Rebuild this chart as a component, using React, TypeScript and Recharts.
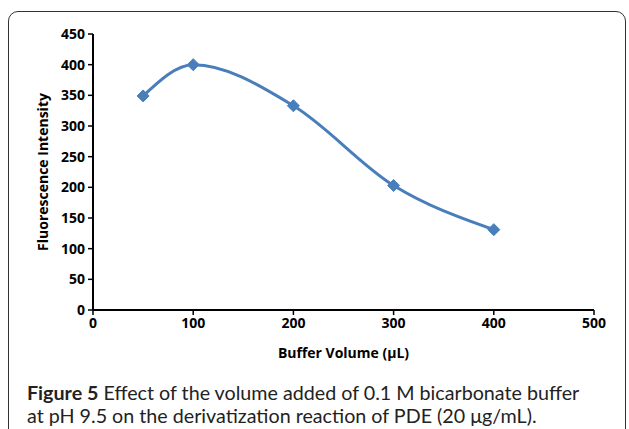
import React from "react";
import { LineChart, Line, XAxis, YAxis, Label } from "recharts";

const volumes = [50, 100, 200, 300, 400];
const intensity = [349, 400, 333, 203, 131];
const xTicks = [0, 100, 200, 300, 400, 500];
const yTicks = [0, 50, 100, 150, 200, 250, 300, 350, 400, 450];

const data = volumes.map((v, i) => ({ volume: v, intensity: intensity[i] }));

const BLUE = "#4a7ebb";
const tickFont = { fontFamily: "'Open Sans', sans-serif", fontSize: 14, fontWeight: 700, fill: "#000" };

const Diamond = (props: any) => {
  const { cx, cy } = props;
  if (cx == null || cy == null) return null;
  const r = 6;
  return (
    <path
      d={`M${cx},${cy - r}L${cx + r},${cy}L${cx},${cy + r}L${cx - r},${cy}Z`}
      fill={BLUE}
      stroke={BLUE}
    />
  );
};

const YTitle = (props: any) => {
  const vb = props.viewBox || {};
  const x = 42;
  const y = vb.y + vb.height / 2;
  return (
    <text
      x={x}
      y={y}
      transform={`rotate(-90 ${x} ${y})`}
      textAnchor="middle"
      dominantBaseline="central"
      style={tickFont}
    >
      Fluorescence Intensity
    </text>
  );
};

export default function App() {
  return (
    <div style={{ position: "absolute", left: 0, top: 0, width: 629, height: 429, background: "#fff", overflow: "hidden" }}>
      <div
        style={{
          position: "absolute",
          left: 8,
          top: 11,
          width: 616,
          height: 440,
          border: "1.5px solid #333",
          borderRadius: 10,
        }}
      />
      <div style={{ position: "absolute", left: 0, top: 0 }}>
        <LineChart width={629} height={370} data={data} margin={{ top: 34, right: 35, left: 0, bottom: 0 }}>
          <XAxis
            dataKey="volume"
            type="number"
            domain={[0, 500]}
            ticks={xTicks}
            height={60}
            tick={tickFont}
            tickSize={5}
            tickMargin={3}
            axisLine={{ stroke: "#000", strokeWidth: 2 }}
            tickLine={{ stroke: "#000", strokeWidth: 1.5 }}
          >
            <Label value="Buffer Volume (μL)" position="insideBottom" offset={12} style={tickFont} />
          </XAxis>
          <YAxis
            type="number"
            domain={[0, 450]}
            ticks={yTicks}
            width={93}
            tick={tickFont}
            tickSize={5}
            tickMargin={3}
            axisLine={{ stroke: "#000", strokeWidth: 2 }}
            tickLine={{ stroke: "#000", strokeWidth: 1.5 }}
          >
            <Label content={<YTitle />} />
          </YAxis>
          <Line
            type="monotone"
            dataKey="intensity"
            stroke={BLUE}
            strokeWidth={3}
            dot={<Diamond />}
            activeDot={false}
            isAnimationActive={false}
          />
        </LineChart>
      </div>
      <div
        style={{
          position: "absolute",
          left: 27,
          top: 381,
          width: 600,
          fontFamily: "Lato, sans-serif",
          fontSize: 19.7,
          lineHeight: "23px",
          color: "#222",
          whiteSpace: "nowrap",
        }}
      >
        <div>
          <b>Figure 5</b> Effect of the volume added of 0.1 M bicarbonate buffer
        </div>
        <div>at pH 9.5 on the derivatization reaction of PDE (20 μg/mL).</div>
      </div>
    </div>
  );
}
